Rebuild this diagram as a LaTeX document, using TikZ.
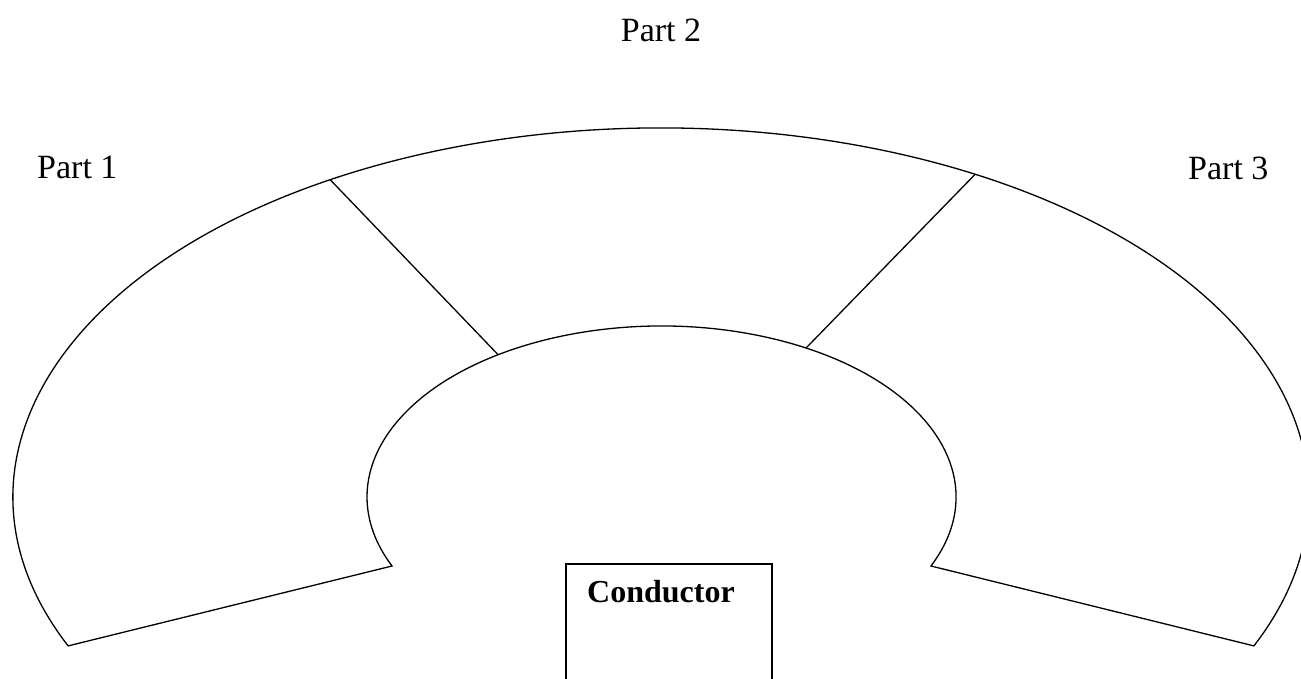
\documentclass[tikz,border=0pt]{standalone}
\usepackage{fontspec}
\setmainfont{Liberation Serif}
\usetikzlibrary{calc}
\begin{document}
\begin{tikzpicture}[x=1pt,y=1pt,
  outline/.style={line width=1.3pt,line join=miter},
  partlabel/.style={inner sep=0pt,anchor=base west,font=\fontsize{34}{40}\selectfont},
  condlabel/.style={inner sep=0pt,anchor=base west,font=\fontsize{32}{38}\selectfont\bfseries}]
\path[use as bounding box,fill=white] (0,0) rectangle (1301,679);
\coordinate (oc) at (661,182);
\coordinate (ic) at (661.5,182);
\coordinate (oL) at ($(oc)+(203.8:648pt and 369pt)$);
\coordinate (iR) at ($(ic)+(-23.8:294.5pt and 171pt)$);
\coordinate (o1) at ($(oc)+(120.7:648pt and 369pt)$);
\coordinate (i1) at ($(ic)+(123.7:294.5pt and 171pt)$);
\coordinate (o2) at ($(oc)+(61:648pt and 369pt)$);
\coordinate (i2) at ($(ic)+(60.6:294.5pt and 171pt)$);
\draw[outline] (oL) arc[start angle=203.8,end angle=-23.8,x radius=648pt,y radius=369pt]
  -- (iR) arc[start angle=-23.8,end angle=203.8,x radius=294.5pt,y radius=171pt] -- cycle;
\draw[outline] (o1) -- (i1);
\draw[outline] (o2) -- (i2);
\coordinate (bl) at (566,-2);
\coordinate (br) at (772,-2);
\draw[outline] (bl) |- (772,115) -- (br);
\node[partlabel] (p1) at (37,500) {Part 1};
\node[partlabel,anchor=base] (p2) at (661,637) {Part 2};
\node[partlabel] (p3) at (1188,499) {Part 3};
\node[condlabel] (cond) at (587,76) {Conductor};
\end{tikzpicture}
\end{document}
